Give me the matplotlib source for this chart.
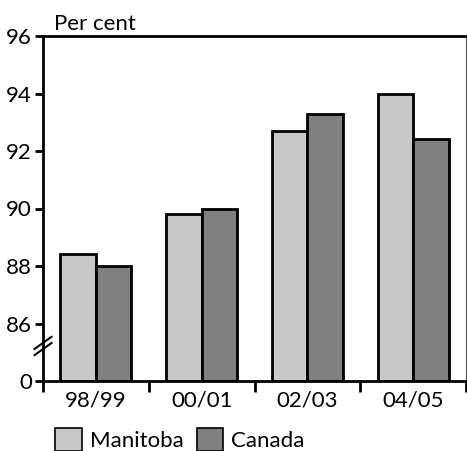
import numpy as np
import matplotlib
matplotlib.use("Agg")
import matplotlib.pyplot as plt
from matplotlib.patches import Patch

plt.rcParams['font.family'] = ['Lato', 'DejaVu Sans']

# data
years = ["98/99", "00/01", "02/03", "04/05"]
manitoba = [88.4, 89.8, 92.7, 94.0]
canada = [88.0, 90.0, 93.3, 92.4]
ytick_vals = [86, 88, 90, 92, 94, 96]

base = 84  # axis break: 0 is drawn one step below 86

fig = plt.figure(figsize=(4.67, 4.51), dpi=100)
ax = fig.add_axes([43 / 467, 1 - 381 / 451, 423 / 467, 345 / 451])

x = np.arange(len(years))
w = 0.335
ax.bar(x - w / 2, np.array(manitoba) - base, w, bottom=base, color="#c8c8c8",
       edgecolor="black", linewidth=2)
ax.bar(x + w / 2, np.array(canada) - base, w, bottom=base, color="#808080",
       edgecolor="black", linewidth=2)

ax.set_xlim(-0.5, len(years) - 0.5)
ax.set_ylim(base, 96)
ax.set_yticks([base] + ytick_vals)
ax.set_yticklabels(["0"] + [str(v) for v in ytick_vals])
ax.set_xticks(x)
ax.set_xticklabels(years)
ax.set_xticks(np.arange(len(years) + 1) - 0.5, minor=True)
ax.tick_params(axis="x", which="major", length=0, labelsize=16, pad=7)
ax.tick_params(axis="x", which="minor", length=8, width=2, direction="out")
ax.tick_params(axis="y", length=6, width=2, labelsize=16, pad=2)

ax.spines["left"].set_linewidth(2)
ax.spines["bottom"].set_linewidth(2)
ax.spines["top"].set_linewidth(2)
ax.spines["right"].set_linewidth(0.8)
ax.spines["right"].set_color("#555555")

# break marks on the y axis
for dy in (0, 0.018):
    ax.plot([-0.02, 0.02], [0.075 + dy, 0.11 + dy], transform=ax.transAxes,
            color="black", lw=1.5, clip_on=False)
ax.plot([0, 0], [0.08, 0.12], transform=ax.transAxes, color="white", lw=3,
        clip_on=False, zorder=1)

ax.text(0.025, 1.005, "Per cent", transform=ax.transAxes, fontsize=16,
        ha="left", va="bottom")

handles = [Patch(facecolor="#c8c8c8", edgecolor="black", linewidth=1.2,
                 label="Manitoba"),
           Patch(facecolor="#808080", edgecolor="black", linewidth=1.2,
                 label="Canada")]
fig.legend(handles=handles, loc="lower left", bbox_to_anchor=(53 / 467, -0.005),
           borderaxespad=0, borderpad=0.1,
           ncol=2, frameon=False, fontsize=16, handlelength=1.2,
           handleheight=1.25, handletextpad=0.35, columnspacing=0.6)

fig.savefig("out.png", dpi=100)
